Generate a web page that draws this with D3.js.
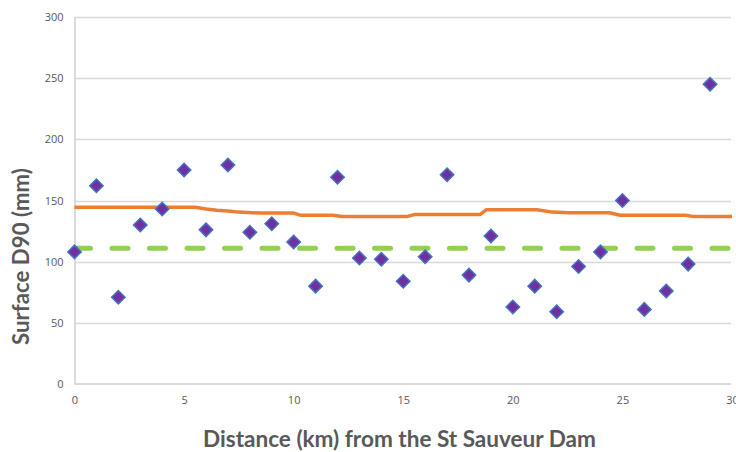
<!DOCTYPE html>
<html>
<head>
<meta charset="utf-8">
<script src="https://cdn.jsdelivr.net/npm/d3@7"></script>
<style>
  html, body { margin: 0; padding: 0; background: #fff; }
  svg { display: block; }
</style>
</head>
<body>
<svg id="chart" width="736" height="452"></svg>
<script>
// Surface D90 measured every kilometre downstream of the dam
const distances = d3.range(0, 30);
const d90Values = [108, 162, 71, 130, 143, 175, 126, 179, 124, 131,
                   116, 80, 169, 103, 102, 84, 104, 171, 89, 121,
                   63, 80, 59, 96, 108, 150, 61, 76, 98, 245];

// Reference curve (orange) as [distance, value] breakpoints
const refDistances = [0, 5.5, 6, 6.5, 7, 7.5, 8.5, 10, 10.3, 11.8, 12.2, 15.2, 15.5,
                      18.5, 18.8, 21.1, 21.8, 22.6, 24.4, 24.9, 27.9, 28.2, 30];
const refValues = [144.5, 144.5, 143, 142, 141.5, 140.5, 139.7, 139.7, 138, 138, 137, 137, 138.5,
                   138.5, 142.5, 142.5, 140.5, 140, 140, 138, 138, 137, 137];

// Threshold (green dashed)
const thresholdDistances = [0, 30];
const thresholdValues = [111, 111];

const xTicks = [0, 5, 10, 15, 20, 25, 30];
const yTicks = [0, 50, 100, 150, 200, 250, 300];

const xTitle = "Distance (km) from the St Sauveur Dam";
const yTitle = "Surface D90 (mm)";

const svg = d3.select("#chart");
const plotLeft = 74.5, plotRight = 732, plotTop = 17, plotBottom = 384;

const x = d3.scaleLinear().domain([0, 30]).range([plotLeft, plotRight]);
const y = d3.scaleLinear().domain([0, 300]).range([plotBottom, plotTop]);

const textColor = "#595959";
const tickFont = "'Open Sans', 'Liberation Sans', sans-serif";
const titleFont = "Lato, 'Open Sans', sans-serif";

// Horizontal gridlines
svg.append("g")
  .selectAll("line")
  .data(yTicks.filter(v => v > 0))
  .join("line")
  .attr("x1", plotLeft).attr("x2", 731)
  .attr("y1", d => Math.round(y(d)) + 0.5).attr("y2", d => Math.round(y(d)) + 0.5)
  .attr("stroke", "#d9d9d9").attr("stroke-width", 1.3);

// Y axis
const yAxis = svg.append("g")
  .attr("transform", `translate(${plotLeft},0)`)
  .call(d3.axisLeft(y).tickValues(yTicks).tickSize(0).tickPadding(11));
yAxis.select(".domain").attr("stroke", "#cfcfcf").attr("stroke-width", 1.5);
yAxis.selectAll("text").attr("fill", textColor).style("font-family", tickFont).style("font-size", "11px");

// X axis
const xAxis = svg.append("g")
  .attr("transform", `translate(0,${plotBottom})`)
  .call(d3.axisBottom(x).tickValues(xTicks).tickSize(0).tickPadding(12));
xAxis.select(".domain").attr("stroke", "#cfcfcf").attr("stroke-width", 1.5)
  .attr("d", `M${plotLeft},0H731`);
xAxis.selectAll("text").attr("fill", textColor).style("font-family", tickFont).style("font-size", "11px");

// Threshold line
const line = d3.line().x(d => x(d[0])).y(d => y(d[1]));
svg.append("path")
  .datum(d3.zip(thresholdDistances, thresholdValues))
  .attr("d", line)
  .attr("fill", "none")
  .attr("stroke", "#92d050")
  .attr("stroke-width", 5)
  .attr("stroke-linecap", "round")
  .attr("stroke-dasharray", "16 21.5");

// Reference curve
svg.append("path")
  .datum(d3.zip(refDistances, refValues))
  .attr("d", line)
  .attr("fill", "none")
  .attr("stroke", "#ed7d31")
  .attr("stroke-width", 3.5)
  .attr("stroke-linejoin", "round");

// Diamond markers
const diamond = d3.symbol().type(d3.symbolSquare).size(90);
svg.append("g")
  .selectAll("path")
  .data(d3.zip(distances, d90Values))
  .join("path")
  .attr("d", diamond)
  .attr("transform", d => `translate(${x(d[0])},${y(d[1])}) rotate(45)`)
  .attr("fill", "#7030a0")
  .attr("stroke", "#4472c4")
  .attr("stroke-width", 1.5);

// Axis titles, sized to a target length
function fitText(sel, target, start) {
  let fs = start;
  sel.style("font-size", fs + "px");
  const len = sel.node().getComputedTextLength();
  fs = fs * target / len;
  sel.style("font-size", fs.toFixed(2) + "px");
}

const xt = svg.append("text")
  .attr("x", 399.5).attr("y", 447)
  .attr("text-anchor", "middle")
  .attr("fill", textColor)
  .style("font-family", titleFont).style("font-weight", "bold")
  .text(xTitle);
fitText(xt, 393, 20);

const yt = svg.append("text")
  .attr("transform", "translate(29,256.5) rotate(-90)")
  .attr("text-anchor", "middle")
  .attr("fill", textColor)
  .style("font-family", titleFont).style("font-weight", "bold")
  .text(yTitle);
fitText(yt, 177, 20);
</script>
</body>
</html>
